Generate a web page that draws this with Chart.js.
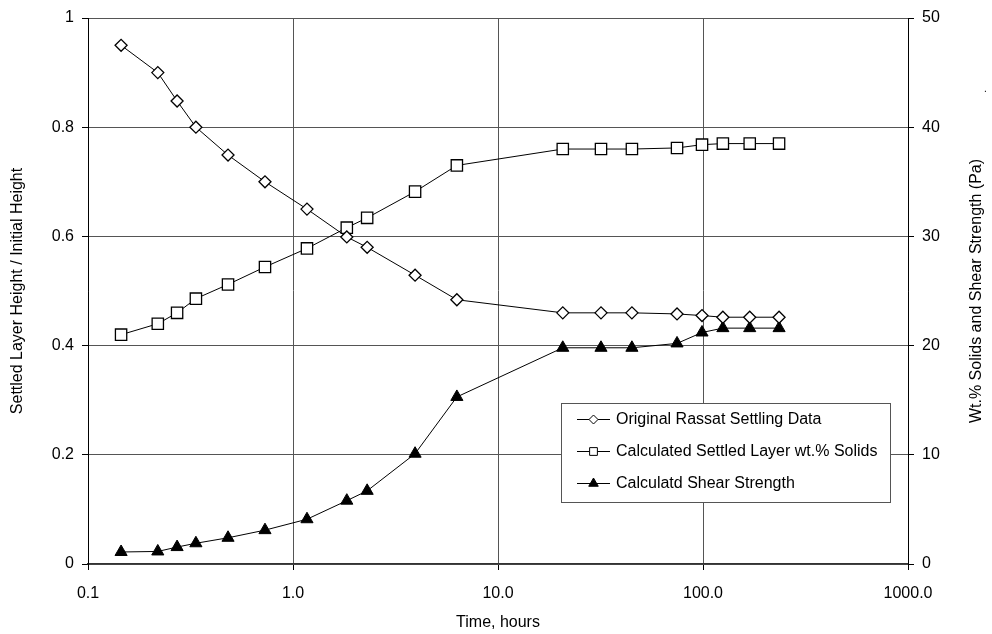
<!DOCTYPE html>
<html>
<head>
<meta charset="utf-8">
<script src="https://cdn.jsdelivr.net/npm/chart.js@4.4.0/dist/chart.umd.min.js"></script>
<style>
  html, body { margin: 0; padding: 0; background: #fff; }
  #wrap { width: 992px; height: 634px; }
</style>
</head>
<body>
<div id="wrap"><canvas id="settleCanv" width="992" height="634"></canvas></div>
<script>
// time, hours (log axis)
const hours = [0.145, 0.219, 0.272, 0.336, 0.482, 0.73, 1.17, 1.83, 2.3, 3.94, 6.3, 20.7, 31.8, 45, 74.7, 98.9, 125, 169, 235];
// settled layer height / initial height (left axis)
const heightRatio = [0.95, 0.90, 0.848, 0.80, 0.749, 0.70, 0.65, 0.599, 0.58, 0.529, 0.484, 0.46, 0.46, 0.46, 0.458, 0.455, 0.452, 0.452, 0.452];
// wt.% solids and shear strength (right axis)
const wtSolids = [21.0, 22.0, 23.0, 24.3, 25.6, 27.2, 28.9, 30.8, 31.7, 34.1, 36.5, 38.0, 38.0, 38.0, 38.1, 38.4, 38.5, 38.5, 38.5];
const shear = [1.1, 1.15, 1.55, 1.9, 2.4, 3.1, 4.1, 5.8, 6.7, 10.1, 15.3, 19.8, 19.8, 19.8, 20.2, 21.2, 21.6, 21.6, 21.6];

const xTicks = [0.1, 1, 10, 100, 1000];
const leftTicks = [0, 0.2, 0.4, 0.6, 0.8, 1];
const rightTicks = [0, 10, 20, 30, 40, 50];

const fam = "'Liberation Sans', Arial, sans-serif";
const tickFont = { family: fam, size: 16 };
const gridColor = '#555';

function pts(ys) {
  return hours.map((h, i) => ({ x: h, y: ys[i] }));
}

let data = {
  datasets: [
    {
      label: 'Original Rassat Settling Data',
      data: pts(heightRatio),
      yAxisID: 'y',
      pointStyle: 'rectRot',
      pointRadius: 6,
      legendRadius: 4.5,
      backgroundColor: '#fff',
      borderColor: '#000',
      borderWidth: 1,
      pointBorderWidth: 1.3,
    },
    {
      label: 'Calculated Settled Layer wt.% Solids',
      data: pts(wtSolids),
      yAxisID: 'y1',
      pointStyle: 'rect',
      pointRadius: 8,
      legendRadius: 5.5,
      backgroundColor: '#fff',
      borderColor: '#000',
      borderWidth: 1,
      pointBorderWidth: 1.3,
    },
    {
      label: 'Calculatd Shear Strength',
      data: pts(shear),
      yAxisID: 'y1',
      pointStyle: 'triangle',
      pointRadius: 7,
      legendRadius: 5.5,
      backgroundColor: '#000',
      borderColor: '#000',
      borderWidth: 1,
      pointBorderWidth: 1,
    },
  ],
};

// legend box drawn inside the plot, plus the right axis title (reads bottom to top)
const extras = {
  id: 'extras',
  afterDatasetsDraw(chart) {
    const ctx = chart.ctx;
    const area = chart.chartArea;
    const bx = 561, by = 403, bw = 329, bh = 99;
    ctx.save();
    ctx.fillStyle = '#fff';
    ctx.fillRect(bx, by, bw, bh);
    ctx.strokeStyle = '#555';
    ctx.lineWidth = 1;
    ctx.strokeRect(bx + 0.5, by + 0.5, bw, bh);

    ctx.font = '16px ' + fam;
    ctx.textBaseline = 'middle';
    chart.data.datasets.forEach((ds, i) => {
      const cy = by + 16 + i * 32;
      ctx.strokeStyle = '#000';
      ctx.lineWidth = 1;
      ctx.beginPath();
      ctx.moveTo(577, cy + 0.5);
      ctx.lineTo(610, cy + 0.5);
      ctx.stroke();
      ctx.fillStyle = ds.backgroundColor;
      Chart.helpers.drawPoint(ctx, {
        pointStyle: ds.pointStyle,
        radius: ds.legendRadius,
        borderWidth: 1,
        rotation: 0,
      }, 593.5, cy + 0.5);
      ctx.fillStyle = '#000';
      ctx.fillText(ds.label, 616, cy + 1);
    });

    ctx.translate(977, (area.top + area.bottom) / 2);
    ctx.rotate(-Math.PI / 2);
    ctx.textAlign = 'center';
    ctx.font = '16px ' + fam;
    ctx.fillText('Wt.% Solids and Shear Strength (Pa)', 0, 0);
    ctx.restore();

    ctx.save();
    ctx.fillStyle = '#000';
    ctx.font = '10px ' + fam;
    ctx.fillText('.', 984, 92);
    ctx.restore();
  },
};

let options = {
  responsive: false,
  animation: false,
  devicePixelRatio: 1,
  layout: { padding: { top: 18, left: 0, right: 0, bottom: 0 } },
  plugins: {
    legend: { display: false },
    tooltip: { enabled: false },
  },
  elements: {
    line: { tension: 0 },
  },
  scales: {
    x: {
      type: 'logarithmic',
      position: 'bottom',
      min: 0.1,
      max: 1000,
      afterBuildTicks: (s) => { s.ticks = xTicks.map((v) => ({ value: v })); },
      afterFit: (s) => { s.height = 70; },
      ticks: {
        autoSkip: false,
        maxRotation: 0,
        color: '#000',
        font: tickFont,
        padding: 14,
        callback: (v) => Number(v).toFixed(1),
      },
      grid: { color: gridColor, tickColor: '#000', tickLength: 6 },
      border: { color: '#333', width: 1.5 },
      title: {
        display: true,
        text: 'Time, hours',
        color: '#000',
        font: tickFont,
        padding: { bottom: 2 },
      },
    },
    y: {
      position: 'left',
      min: 0,
      max: 1,
      afterBuildTicks: (s) => { s.ticks = leftTicks.map((v) => ({ value: v })); },
      afterFit: (s) => { s.width = 88; },
      ticks: {
        color: '#000',
        font: tickFont,
        padding: 8,
        callback: (v) => String(v),
      },
      grid: { color: gridColor, tickColor: '#000', tickLength: 6 },
      border: { color: '#000', width: 1 },
      title: {
        display: true,
        text: 'Settled Layer Height / Initial Height',
        color: '#000',
        font: tickFont,
        padding: { top: 8 },
      },
    },
    y1: {
      position: 'right',
      min: 0,
      max: 50,
      afterBuildTicks: (s) => { s.ticks = rightTicks.map((v) => ({ value: v })); },
      afterFit: (s) => { s.width = 84; },
      ticks: {
        color: '#000',
        font: tickFont,
        padding: 8,
      },
      grid: { drawOnChartArea: false, tickColor: '#000', tickLength: 6 },
      border: { color: '#000', width: 1 },
    },
  },
};

const ctx = document.getElementById('settleCanv').getContext('2d');
const myChart = new Chart(ctx, {
  type: 'line',
  data: data,
  options: options,
  plugins: [extras],
});
</script>
</body>
</html>
